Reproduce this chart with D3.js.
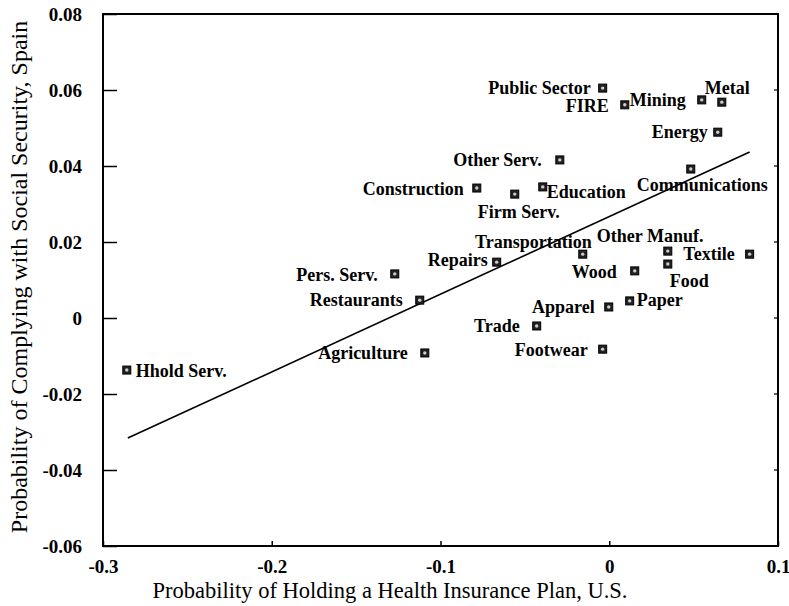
<!DOCTYPE html>
<html>
<head>
<meta charset="utf-8">
<script src="https://cdn.jsdelivr.net/npm/d3@7"></script>
<style>
  body{margin:0;background:#fff;}
  svg{display:block;font-family:"Liberation Serif","Times New Roman",serif;}
</style>
</head>
<body>
<div id="chart"></div>
<script>
// industries, values
const sectors=["Public Sector","FIRE","Mining","Metal","Energy","Other Serv.","Communications",
  "Construction","Firm Serv.","Education","Repairs","Transportation","Other Manuf.","Textile",
  "Food","Wood","Paper","Apparel","Trade","Footwear","Pers. Serv.","Restaurants","Agriculture","Hhold Serv."];
const healthUS=[-0.0039,0.0092,0.0548,0.0667,0.0643,-0.0293,0.0483,
  -0.0785,-0.0560,-0.0394,-0.0667,-0.0157,0.0347,0.0832,
  0.0347,0.0151,0.0121,-0.0003,-0.0430,-0.0039,-0.1271,-0.1123,-0.1093,-0.2859];
const socSecSpain=[0.0605,0.0561,0.0574,0.0568,0.0489,0.0416,0.0392,
  0.0342,0.0326,0.0345,0.0147,0.0168,0.0176,0.0168,
  0.0142,0.0124,0.0045,0.0029,-0.0021,-0.0082,0.0116,0.0047,-0.0092,-0.0137];
// fitted line end points
const fitX=[-0.2853,0.0832];
const fitY=[-0.0316,0.0437];
const xTicks=[-0.3,-0.2,-0.1,0,0.1];
const yTicks=[-0.06,-0.04,-0.02,0,0.02,0.04,0.06,0.08];

// label placement: [anchor, dx, dy]
const labelPos={
  "Public Sector":["end",-12,6],"FIRE":["end",-16,7],"Mining":["end",-16,6],"Metal":["start",-17,-8],
  "Energy":["end",-10,6],"Other Serv.":["end",-18,6],"Communications":["start",-54,22],
  "Construction":["end",-13,7],"Firm Serv.":["start",-37,24],"Education":["start",4,11],
  "Repairs":["end",-9,4],"Transportation":["end",9,-6],"Other Manuf.":["start",-71,-9],
  "Textile":["end",-15,6],"Food":["start",2,23],"Wood":["end",-18,7],"Paper":["start",7,5],
  "Apparel":["end",-14,6],"Trade":["end",-17,6],"Footwear":["end",-15,7],"Pers. Serv.":["end",-17,7],
  "Restaurants":["end",-17,6],"Agriculture":["end",-17,6],"Hhold Serv.":["start",9,7]
};

const W=789,H=606;
const mLeft=103,mRight=778,mTop=14,mBottom=546;

const x=d3.scaleLinear().domain([-0.3,0.1]).range([mLeft,mRight]);
const y=d3.scaleLinear().domain([-0.06,0.08]).range([mBottom,mTop]);

// plain hyphen for negatives, like the original
const fmt=p=>d=>d===0?"0":d3.format(p)(d).replace("\u2212","-");

const svg=d3.select("#chart").append("svg")
  .attr("width",W).attr("height",H);

// frame
svg.append("rect")
  .attr("x",mLeft).attr("y",mTop)
  .attr("width",mRight-mLeft).attr("height",mBottom-mTop)
  .attr("fill","none").attr("stroke","#000").attr("stroke-width",2);

// left axis, ticks point inward
const yAxis=svg.append("g")
  .attr("transform",`translate(${mLeft},0)`)
  .call(d3.axisLeft(y).tickValues(yTicks).tickSize(-14).tickPadding(21).tickFormat(fmt(".2f")));
yAxis.select(".domain").remove();
yAxis.selectAll("line").attr("stroke-width",1.5);
yAxis.selectAll("text")
  .attr("font-family","Liberation Serif, serif")
  .attr("font-size",19).attr("font-weight","bold").attr("fill","#000");

// right side mirror ticks
svg.append("g").selectAll("line").data(yTicks).join("line")
  .attr("x1",mRight).attr("x2",mRight-4)
  .attr("y1",d=>y(d)).attr("y2",d=>y(d))
  .attr("stroke","#000").attr("stroke-width",1.2);

// bottom axis
const xAxis=svg.append("g")
  .attr("transform",`translate(0,${mBottom})`)
  .call(d3.axisBottom(x).tickValues(xTicks).tickSize(-5).tickPadding(14).tickFormat(fmt(".1f")));
xAxis.select(".domain").remove();
xAxis.selectAll("line").attr("stroke-width",1.5);
xAxis.selectAll("text")
  .attr("font-family","Liberation Serif, serif")
  .attr("font-size",19).attr("font-weight","bold").attr("fill","#000");

// fitted line
svg.append("line")
  .attr("x1",x(fitX[0])).attr("y1",y(fitY[0]))
  .attr("x2",x(fitX[1])).attr("y2",y(fitY[1]))
  .attr("stroke","#000").attr("stroke-width",1.6);

const pts=sectors.map((s,i)=>({name:s,hx:healthUS[i],sy:socSecSpain[i]}));

// markers
const mk=svg.append("g").selectAll("g").data(pts).join("g")
  .attr("transform",d=>`translate(${x(d.hx)},${y(d.sy)})`);
mk.append("rect")
  .attr("x",-4).attr("y",-4).attr("width",8).attr("height",8)
  .attr("fill","#222").attr("stroke","#000").attr("stroke-width",1);
mk.append("circle").attr("r",1.7).attr("fill","#ccc");

// labels
svg.append("g").selectAll("text").data(pts).join("text")
  .attr("x",d=>x(d.hx)+labelPos[d.name][1])
  .attr("y",d=>y(d.sy)+labelPos[d.name][2])
  .attr("text-anchor",d=>labelPos[d.name][0])
  .attr("font-size",18).attr("font-weight","bold")
  .text(d=>d.name);

// axis titles
svg.append("text")
  .attr("x",390).attr("y",598)
  .attr("text-anchor","middle").attr("font-size",22.5)
  .text("Probability of Holding a Health Insurance Plan, U.S.");

svg.append("text")
  .attr("transform","translate(27,277) rotate(-90)")
  .attr("text-anchor","middle").attr("font-size",24)
  .text("Probability of Complying with Social Security, Spain");
</script>
</body>
</html>
